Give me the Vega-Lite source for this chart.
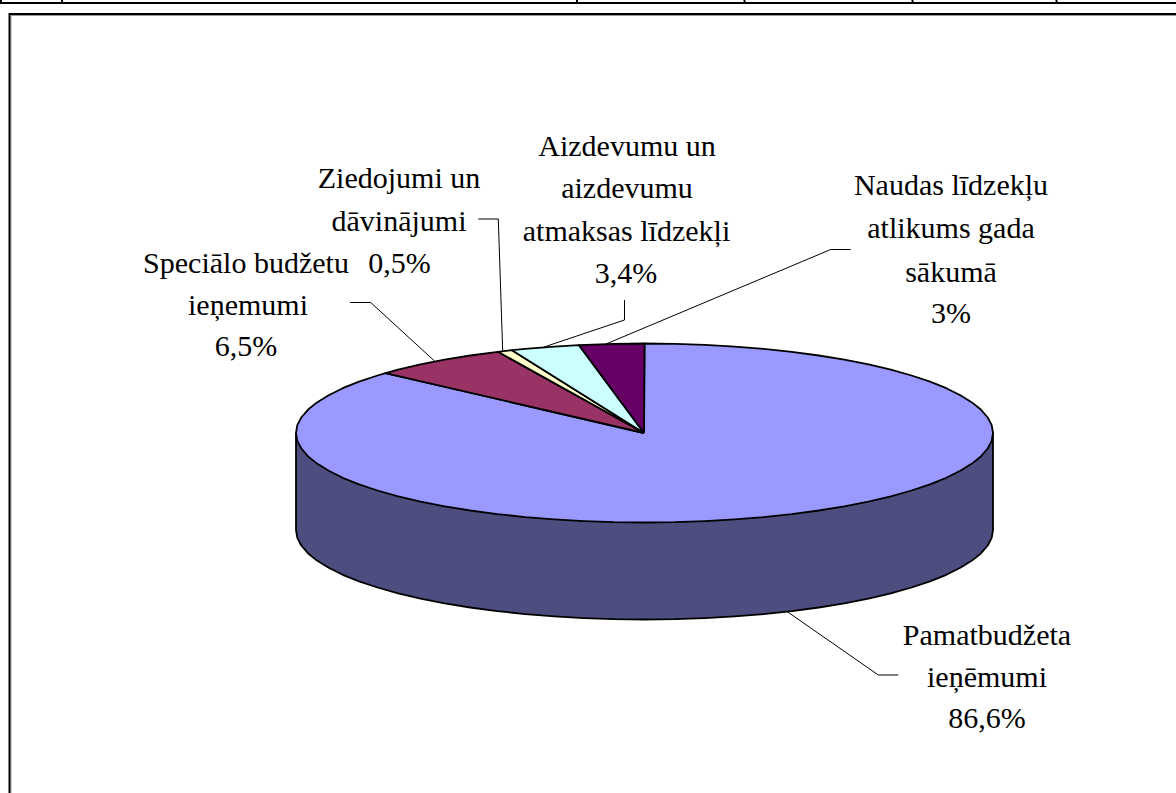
{"$schema":"https://vega.github.io/schema/vega-lite/v6.json","width":1176,"height":793,"padding":0,"autosize":{"type":"none"},"background":"white","config":{"view":{"stroke":null}},
"datasets":{
"frame":[
{"part":"table","i":1,"x":0,"y":3},{"part":"table","i":2,"x":1176,"y":3},
{"part":"t0","i":1,"x":1,"y":0},{"part":"t0","i":2,"x":1,"y":3},
{"part":"t1","i":1,"x":62,"y":0},{"part":"t1","i":2,"x":62,"y":3},
{"part":"t2","i":1,"x":577,"y":0},{"part":"t2","i":2,"x":577,"y":3},
{"part":"t3","i":1,"x":744.5,"y":0},{"part":"t3","i":2,"x":744.5,"y":3},
{"part":"t4","i":1,"x":912.5,"y":0},{"part":"t4","i":2,"x":912.5,"y":3},
{"part":"t5","i":1,"x":1056.5,"y":0},{"part":"t5","i":2,"x":1056.5,"y":3},
{"part":"box","i":1,"x":9.5,"y":793},{"part":"box","i":2,"x":9.5,"y":14},{"part":"box","i":3,"x":1176,"y":14}],
"shade":[{"part":"box","i":1,"x":11,"y":793},{"part":"box","i":2,"x":11,"y":15.5},{"part":"box","i":3,"x":1176,"y":15.5}],
"leaders":[
{"part":"Special","i":1,"x":350,"y":302.5},{"part":"Special","i":2,"x":370.7,"y":302.5},{"part":"Special","i":3,"x":434.5,"y":361},
{"part":"Ziedo","i":1,"x":478.3,"y":219},{"part":"Ziedo","i":2,"x":498.3,"y":219},{"part":"Ziedo","i":3,"x":502.7,"y":351},
{"part":"Aizd","i":1,"x":624.5,"y":300},{"part":"Aizd","i":2,"x":624.5,"y":320},{"part":"Aizd","i":3,"x":544,"y":347},
{"part":"Naudas","i":1,"x":850.7,"y":249.5},{"part":"Naudas","i":2,"x":830.7,"y":249.5},{"part":"Naudas","i":3,"x":606,"y":344},
{"part":"Pamat","i":1,"x":898.3,"y":675},{"part":"Pamat","i":2,"x":878.3,"y":675},{"part":"Pamat","i":3,"x":787.3,"y":611.7}],
"wall":[
{"i":1,"x":296,"y":433},{"i":2,"x":296,"y":530},{"i":3,"x":297.3,"y":537.8},{"i":4,"x":301.3,"y":545.5},{"i":5,"x":307.9,"y":553.2},{"i":6,"x":317,"y":560.6},{"i":7,"x":328.7,"y":567.8},{"i":8,"x":342.7,"y":574.8},{"i":9,"x":359,"y":581.3},{"i":10,"x":377.5,"y":587.5},{"i":11,"x":398.1,"y":593.3},{"i":12,"x":420.5,"y":598.6},{"i":13,"x":444.6,"y":603.3},{"i":14,"x":470.2,"y":607.5},{"i":15,"x":497.2,"y":611.1},{"i":16,"x":525.3,"y":614.1},{"i":17,"x":554.3,"y":616.4},{"i":18,"x":584,"y":618.1},{"i":19,"x":614.1,"y":619.2},{"i":20,"x":644.5,"y":619.5},{"i":21,"x":674.9,"y":619.2},{"i":22,"x":705,"y":618.1},{"i":23,"x":734.7,"y":616.4},{"i":24,"x":763.7,"y":614.1},{"i":25,"x":791.8,"y":611.1},{"i":26,"x":818.8,"y":607.5},{"i":27,"x":844.4,"y":603.3},{"i":28,"x":868.5,"y":598.6},{"i":29,"x":890.9,"y":593.3},{"i":30,"x":911.5,"y":587.5},{"i":31,"x":930,"y":581.3},{"i":32,"x":946.3,"y":574.8},{"i":33,"x":960.3,"y":567.8},{"i":34,"x":972,"y":560.6},{"i":35,"x":981.1,"y":553.2},{"i":36,"x":987.7,"y":545.5},{"i":37,"x":991.7,"y":537.8},{"i":38,"x":993,"y":530},{"i":39,"x":993,"y":433},{"i":40,"x":296,"y":433}],
"slices":[
{"part":"Pamat","i":1,"x":644,"y":433},{"part":"Pamat","i":2,"x":644.5,"y":343.5},{"part":"Pamat","i":3,"x":674.9,"y":343.8},{"part":"Pamat","i":4,"x":705,"y":344.9},{"part":"Pamat","i":5,"x":734.7,"y":346.6},{"part":"Pamat","i":6,"x":763.7,"y":348.9},{"part":"Pamat","i":7,"x":791.8,"y":351.9},{"part":"Pamat","i":8,"x":818.8,"y":355.5},{"part":"Pamat","i":9,"x":844.4,"y":359.7},{"part":"Pamat","i":10,"x":868.5,"y":364.4},{"part":"Pamat","i":11,"x":890.9,"y":369.7},{"part":"Pamat","i":12,"x":911.5,"y":375.5},{"part":"Pamat","i":13,"x":930,"y":381.7},{"part":"Pamat","i":14,"x":946.3,"y":388.2},{"part":"Pamat","i":15,"x":960.3,"y":395.2},{"part":"Pamat","i":16,"x":972,"y":402.4},{"part":"Pamat","i":17,"x":981.1,"y":409.8},{"part":"Pamat","i":18,"x":987.7,"y":417.5},{"part":"Pamat","i":19,"x":991.7,"y":425.2},{"part":"Pamat","i":20,"x":993,"y":433},{"part":"Pamat","i":21,"x":991.7,"y":440.8},{"part":"Pamat","i":22,"x":987.7,"y":448.5},{"part":"Pamat","i":23,"x":981.1,"y":456.2},{"part":"Pamat","i":24,"x":972,"y":463.6},{"part":"Pamat","i":25,"x":960.3,"y":470.8},{"part":"Pamat","i":26,"x":946.3,"y":477.8},{"part":"Pamat","i":27,"x":930,"y":484.3},{"part":"Pamat","i":28,"x":911.5,"y":490.5},{"part":"Pamat","i":29,"x":890.9,"y":496.3},{"part":"Pamat","i":30,"x":868.5,"y":501.6},{"part":"Pamat","i":31,"x":844.4,"y":506.3},{"part":"Pamat","i":32,"x":818.8,"y":510.5},{"part":"Pamat","i":33,"x":791.8,"y":514.1},{"part":"Pamat","i":34,"x":763.7,"y":517.1},{"part":"Pamat","i":35,"x":734.7,"y":519.4},{"part":"Pamat","i":36,"x":705,"y":521.1},{"part":"Pamat","i":37,"x":674.9,"y":522.2},{"part":"Pamat","i":38,"x":644.5,"y":522.5},{"part":"Pamat","i":39,"x":614.1,"y":522.2},{"part":"Pamat","i":40,"x":584,"y":521.1},{"part":"Pamat","i":41,"x":554.3,"y":519.4},{"part":"Pamat","i":42,"x":525.3,"y":517.1},{"part":"Pamat","i":43,"x":497.2,"y":514.1},{"part":"Pamat","i":44,"x":470.2,"y":510.5},{"part":"Pamat","i":45,"x":444.6,"y":506.3},{"part":"Pamat","i":46,"x":420.5,"y":501.6},{"part":"Pamat","i":47,"x":398.1,"y":496.3},{"part":"Pamat","i":48,"x":377.5,"y":490.5},{"part":"Pamat","i":49,"x":359,"y":484.3},{"part":"Pamat","i":50,"x":342.7,"y":477.8},{"part":"Pamat","i":51,"x":328.7,"y":470.8},{"part":"Pamat","i":52,"x":317,"y":463.6},{"part":"Pamat","i":53,"x":307.9,"y":456.2},{"part":"Pamat","i":54,"x":301.3,"y":448.5},{"part":"Pamat","i":55,"x":297.3,"y":440.8},{"part":"Pamat","i":56,"x":296,"y":433},{"part":"Pamat","i":57,"x":297.3,"y":425.2},{"part":"Pamat","i":58,"x":301.3,"y":417.5},{"part":"Pamat","i":59,"x":307.9,"y":409.8},{"part":"Pamat","i":60,"x":317,"y":402.4},{"part":"Pamat","i":61,"x":328.7,"y":395.2},{"part":"Pamat","i":62,"x":342.7,"y":388.2},{"part":"Pamat","i":63,"x":359,"y":381.7},{"part":"Pamat","i":64,"x":377.5,"y":375.5},{"part":"Pamat","i":65,"x":385.5,"y":373.1},{"part":"Pamat","i":66,"x":644,"y":433},
{"part":"Special","i":1,"x":644,"y":433},{"part":"Special","i":2,"x":385.5,"y":373.1},{"part":"Special","i":3,"x":398.1,"y":369.7},{"part":"Special","i":4,"x":420.5,"y":364.4},{"part":"Special","i":5,"x":444.6,"y":359.7},{"part":"Special","i":6,"x":470.2,"y":355.5},{"part":"Special","i":7,"x":498,"y":351.8},{"part":"Special","i":8,"x":644,"y":433},
{"part":"Ziedo","i":1,"x":644,"y":433},{"part":"Ziedo","i":2,"x":498,"y":351.8},{"part":"Ziedo","i":3,"x":512,"y":350.2},{"part":"Ziedo","i":4,"x":644,"y":433},
{"part":"Aizd","i":1,"x":644,"y":433},{"part":"Aizd","i":2,"x":512,"y":350.2},{"part":"Aizd","i":3,"x":525.3,"y":348.9},{"part":"Aizd","i":4,"x":554.3,"y":346.6},{"part":"Aizd","i":5,"x":579,"y":345.1},{"part":"Aizd","i":6,"x":644,"y":433},
{"part":"Naudas","i":1,"x":644,"y":433},{"part":"Naudas","i":2,"x":579,"y":345.1},{"part":"Naudas","i":3,"x":614.1,"y":343.8},{"part":"Naudas","i":4,"x":644.5,"y":343.5},{"part":"Naudas","i":5,"x":644,"y":433}],
"labels":[
{"text":"Aizdevumu un","x":627,"y":156},{"text":"aizdevumu","x":627,"y":198},{"text":"atmaksas līdzekļi","x":626.5,"y":240.7},{"text":"3,4%","x":626,"y":283},
{"text":"Ziedojumi un","x":399,"y":188},{"text":"dāvinājumi","x":399,"y":231},{"text":"0,5%","x":399.5,"y":272.7},
{"text":"Speciālo budžetu","x":246,"y":272.7},{"text":"ieņemumi","x":248,"y":315},{"text":"6,5%","x":246,"y":356},
{"text":"Naudas līdzekļu","x":951,"y":195},{"text":"atlikums gada","x":951,"y":238},{"text":"sākumā","x":951,"y":281.7},{"text":"3%","x":951,"y":323},
{"text":"Pamatbudžeta","x":987,"y":645},{"text":"ieņēmumi","x":987,"y":686.7},{"text":"86,6%","x":987,"y":728}]
},
"encoding":{
"x":{"field":"x","type":"quantitative","scale":{"domain":[0,1176],"nice":false,"zero":false},"axis":null},
"y":{"field":"y","type":"quantitative","scale":{"domain":[0,793],"reverse":true,"nice":false,"zero":false},"axis":null}
},
"layer":[
{"data":{"name":"shade"},"mark":{"type":"line","stroke":"#999999","strokeWidth":1,"clip":true},"encoding":{"order":{"field":"i","type":"quantitative"}}},
{"data":{"name":"frame"},"mark":{"type":"line","stroke":"black","strokeWidth":2,"clip":true},"encoding":{"detail":{"field":"part"},"order":{"field":"i","type":"quantitative"}}},
{"data":{"name":"leaders"},"mark":{"type":"line","stroke":"black","strokeWidth":1},"encoding":{"detail":{"field":"part"},"order":{"field":"i","type":"quantitative"}}},
{"data":{"name":"wall"},"mark":{"type":"line","fill":"#4D4D80","stroke":"black","strokeWidth":1.8,"strokeJoin":"round"},"encoding":{"order":{"field":"i","type":"quantitative"}}},
{"data":{"name":"slices"},"mark":{"type":"line","stroke":"black","strokeWidth":1.8,"strokeJoin":"round"},"encoding":{"fill":{"field":"part","type":"nominal","legend":null,"scale":{"domain":["Pamat","Special","Ziedo","Aizd","Naudas"],"range":["#9999FF","#993366","#FFFFCC","#CCFFFF","#660066"]}},"order":{"field":"i","type":"quantitative"}}},
{"data":{"name":"labels"},"mark":{"type":"text","font":"Liberation Serif","fontSize":30,"fill":"black","align":"center","baseline":"alphabetic"},"encoding":{"text":{"field":"text"}}}
]}
